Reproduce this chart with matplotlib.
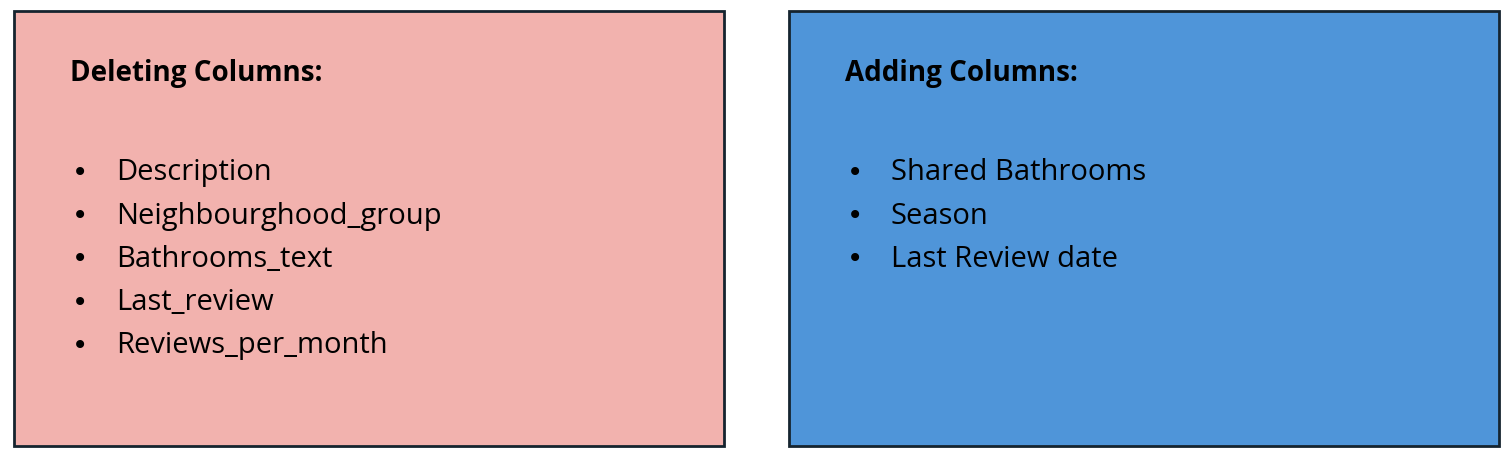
import matplotlib.pyplot as plt
from matplotlib.patches import Rectangle

# Box contents
titles = ["Deleting Columns:", "Adding Columns:"]
items = [
    ["Description", "Neighbourghood_group", "Bathrooms_text", "Last_review", "Reviews_per_month"],
    ["Shared Bathrooms", "Season", "Last Review date"],
]
colors = ["#F2B2AE", "#4F95D9"]
box_x = [14, 789]

fig = plt.figure(figsize=(15.1, 4.64), dpi=100)
ax = fig.add_axes([0, 0, 1, 1])
ax.set_xlim(0, 1510)
ax.set_ylim(464, 0)
ax.axis("off")

for bx, title, lst, col in zip(box_x, titles, items, colors):
    ax.add_patch(Rectangle((bx, 12), 710, 435, facecolor=col, edgecolor="#15242f", linewidth=2))
    ax.text(bx + 56, 73, title, fontsize=20, fontweight="bold", family="Open Sans",
            va="center", ha="left", color="black")
    for i, it in enumerate(lst):
        y = 173 + i * 43.2
        ax.text(bx + 58, y, "•", fontsize=20, va="center", ha="left", family="DejaVu Sans")
        ax.text(bx + 102, y, it, fontsize=21, va="center", ha="left", family="Open Sans")

fig.savefig("out.png", dpi=100)
